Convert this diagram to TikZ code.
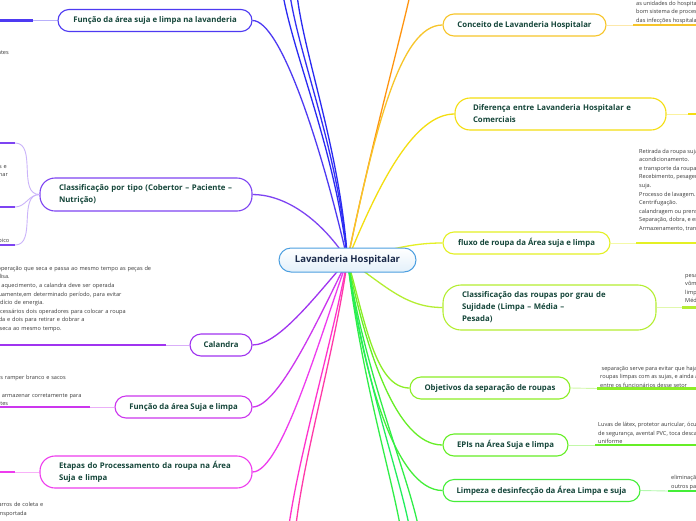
\documentclass[tikz,border=0pt]{standalone}
\usepackage{fontspec}
\setmainfont{Open Sans}
\usetikzlibrary{positioning}

\pgfdeclarelayer{background}
\pgfsetlayers{background,main}

\definecolor{topictext}{HTML}{15463A}
\definecolor{roottext}{HTML}{1C2B4B}
\definecolor{rootline}{HTML}{4C9FE0}
\definecolor{rootfill}{HTML}{E3F0FA}
\definecolor{leaftext}{HTML}{3A3A3A}
\definecolor{mmBlueA}{HTML}{2A2AF2}
\definecolor{mmBlueB}{HTML}{3430F4}
\definecolor{mmIndigo}{HTML}{4E3AF2}
\definecolor{mmViolet}{HTML}{7E44F2}
\definecolor{mmPurple}{HTML}{A034F0}
\definecolor{mmOrchid}{HTML}{CC36EE}
\definecolor{mmMagenta}{HTML}{EE3CEE}
\definecolor{mmPinkA}{HTML}{FF33CC}
\definecolor{mmPinkB}{HTML}{FF3AA8}
\definecolor{mmOrange}{HTML}{FF9410}
\definecolor{mmGold}{HTML}{F7C52A}
\definecolor{mmYellowA}{HTML}{F4DE10}
\definecolor{mmYellowB}{HTML}{E4F024}
\definecolor{mmLime}{HTML}{B4EE32}
\definecolor{mmGreenA}{HTML}{8CEE26}
\definecolor{mmGreenB}{HTML}{66EE26}
\definecolor{mmGreenC}{HTML}{44EE38}
\definecolor{mmGreenD}{HTML}{30EE48}
\definecolor{mmGreenE}{HTML}{22EE5E}

\begin{document}
\begin{tikzpicture}[x=1pt,y=-1pt,
  topic/.style={draw=#1, line width=1.1pt, fill=white, rounded corners=11pt,
    text=topictext, font=\fontsize{7.8}{12}\selectfont\bfseries,
    minimum height=22pt, inner ysep=0pt, inner xsep=12pt},
  branch/.style={draw=#1, line width=1.3pt},
  twig/.style={draw=#1!40, line width=0.9pt},
  under/.style={draw=#1, line width=2.4pt},
  leaf/.style={font=\fontsize{5.6}{8.6}\selectfont, text=leaftext, align=left,
    inner xsep=3pt, inner ysep=1pt}
]
\useasboundingbox (0,0) rectangle (696,520);
\clip (0,0) rectangle (696,520);

% central topic
\node[draw=rootline, line width=1pt, rounded corners=12pt, top color=white, bottom color=rootfill,
  text=roottext, font=\fontsize{9.5}{11}\selectfont\bfseries, minimum width=137pt, minimum height=24pt]
  (root) at (347.5,260) {Lavanderia Hospitalar};

% right side
\node[topic=mmGold, minimum width=163pt] (conceito) at (524.5,25) {Conceito de Lavanderia Hospitalar};
\node[topic=mmYellowA, minimum height=32pt, text width=175pt, align=left, inner xsep=18pt, rounded corners=15pt]
  (diferenca) at (560.5,114) {Diferença entre Lavanderia Hospitalar e\\Comerciais};
\node[topic=mmYellowB, minimum width=167pt] (fluxo) at (526.5,243) {fluxo de roupa da Área suja e limpa};
\node[topic=mmLime, minimum height=45pt, text width=175pt, align=left, inner xsep=19pt, rounded corners=18pt]
  (classRoupa) at (549.5,307.5) {Classificação das roupas por grau de\\Sujidade (Limpa – Média –\\Pesada)};
\node[topic=mmGreenA, minimum width=160pt] (objetivos) at (490,388) {Objetivos da separação de roupas};
\node[topic=mmGreenB, minimum width=125pt] (epis) at (505.5,445) {EPIs na Área Suja e limpa};
\node[topic=mmGreenC, minimum width=197pt] (limpeza) at (541.5,490.5) {Limpeza e desinfecção da Área Limpa e suja};

% left side
\node[topic=mmIndigo, minimum width=194pt] (funcLav) at (155,20.5) {Função da área suja e limpa na lavanderia};
\node[topic=mmViolet, minimum height=33pt, text width=174pt, align=left, inner xsep=19pt, rounded corners=15pt]
  (classTipo) at (146,194.5) {Classificação por tipo (Cobertor – Paciente –\\Nutrição)};
\node[topic=mmPurple, minimum width=62pt] (calandra) at (221,345) {Calandra};
\node[topic=mmOrchid, minimum width=137pt] (funcSuja) at (183.5,407) {Função da área Suja e limpa};
\node[topic=mmMagenta, minimum height=32pt, text width=174pt, align=left, inner xsep=19pt, rounded corners=15pt]
  (etapas) at (146,472) {Etapas do Processamento da roupa na Área\\Suja e limpa};

% ends of branches that leave the page
\coordinate (upA) at (283,-5);
\coordinate (upB) at (290,-5);
\coordinate (upC) at (297,-5);
\coordinate (upOrange) at (410,-5);
\coordinate (downPinkA) at (289,525);
\coordinate (downPinkB) at (296,525);
\coordinate (downGreenA) at (400,525);
\coordinate (downGreenB) at (409,525);
\coordinate (downGreenC) at (418,525);

\begin{pgfonlayer}{background}
\fill[white] (0,0) rectangle (696,520);
\draw[branch=mmBlueA] (root.center) .. controls (335,150) and (295,60) .. (upA);
\draw[branch=mmBlueB] (root.center) .. controls (338,150) and (300,60) .. (upB);
\draw[branch=mmBlueA] (root.center) .. controls (340,150) and (305,60) .. (upC);
\draw[branch=mmIndigo] (root.center) .. controls (320,140) and (280,20.5) .. (funcLav.east);
\draw[branch=mmViolet] (root.center) .. controls (318,215) and (282,194.5) .. (classTipo.east);
\draw[branch=mmPurple] (root.center) .. controls (320,290) and (280,345) .. (calandra.east);
\draw[branch=mmOrchid] (root.center) .. controls (318,320) and (278,407) .. (funcSuja.east);
\draw[branch=mmMagenta] (root.center) .. controls (322,330) and (282,472) .. (etapas.east);
\draw[branch=mmPinkA] (root.center) .. controls (330,350) and (300,450) .. (downPinkA);
\draw[branch=mmPinkB] (root.center) .. controls (335,350) and (305,450) .. (downPinkB);

\draw[branch=mmOrange] (root.center) .. controls (370,150) and (400,40) .. (upOrange);
\draw[branch=mmGold] (root.center) .. controls (375,130) and (400,25) .. (conceito.west);
\draw[branch=mmYellowA] (root.center) .. controls (380,180) and (415,114) .. (diferenca.west);
\draw[branch=mmYellowB] (root.center) .. controls (390,250) and (410,243) .. (fluxo.west);
\draw[branch=mmLime] (root.center) .. controls (385,285) and (405,307.5) .. (classRoupa.west);
\draw[branch=mmGreenA] (root.center) .. controls (365,320) and (375,388) .. (objetivos.west);
\draw[branch=mmGreenB] (root.center) .. controls (365,345) and (395,445) .. (epis.west);
\draw[branch=mmGreenC] (root.center) .. controls (362,370) and (395,490.5) .. (limpeza.west);
\draw[branch=mmGreenD] (root.center) .. controls (360,370) and (390,470) .. (downGreenA);
\draw[branch=mmGreenE] (root.center) .. controls (362,370) and (398,470) .. (downGreenB);
\draw[branch=mmGreenD] (root.center) .. controls (364,370) and (406,470) .. (downGreenC);
\end{pgfonlayer}

% right leaves
\coordinate (conceitoEnd) at (633,25);
\node[leaf, anchor=south west] (conceitoTxt) at (conceitoEnd) {Tem a função de fornecer roupas limpas a todas\\as unidades do hospital, garantindo com um\\bom sistema de processamento a prevenção\\das infecções hospitalares.};
\draw[twig=mmGold] (conceito.east) -- (conceitoEnd);
\draw[under=mmGold] (conceitoEnd) -- ++(70,0);

\coordinate (diferencaEnd) at (688,114);
\draw[twig=mmYellowA] (diferenca.east) -- (diferencaEnd);
\draw[under=mmYellowA] (diferencaEnd) -- ++(20,0);

\coordinate (fluxoEnd) at (636,243);
\node[leaf, anchor=south west, yshift=10pt] (fluxoTxt) at (fluxoEnd) {Retirada da roupa suja das unidades e seu\\acondicionamento.\\e transporte da roupa suja até a lavanderia.\\Recebimento, pesagem e classificação da roupa\\suja.\\Processo de lavagem.\\Centrifugação.\\calandragem ou prensagem.\\Separação, dobra, e embalagem da roupa limpa.\\Armazenamento, transporte e distribuição.};
\draw[twig=mmYellowB] (fluxo.east) -- (fluxoEnd);
\draw[under=mmYellowB] (fluxoEnd) -- ++(70,0);

\coordinate (classRoupaEnd) at (682,307.5);
\node[leaf, anchor=south west, yshift=2pt] (classRoupaTxt) at (classRoupaEnd) {pesada: sangue, fezes, urina,\\vômito e secreções.\\limpa: sem contato com fluidos.\\Média: pouca sujidade.};
\draw[twig=mmLime] (classRoupa.east) -- (classRoupaEnd);
\draw[under=mmLime] (classRoupaEnd) -- ++(30,0);

\coordinate (objetivosEnd) at (597,388.5);
\node[leaf, anchor=south west] (objetivosTxt) at (objetivosEnd) {\ separação serve para evitar que haja contato das\\roupas limpas com as sujas, e ainda a contaminação\\entre os funcionários desse setor};
\draw[twig=mmGreenA] (objetivos.east) -- (objetivosEnd);
\draw[under=mmGreenA] (objetivosEnd) -- ++(110,0);

\coordinate (episEnd) at (595,445);
\node[leaf, anchor=south west] (episTxt) at (episEnd) {Luvas de látex, protetor auricular, óculos\\de segurança, avental PVC, toca descartável e\\uniforme};
\draw[twig=mmGreenB] (epis.east) -- (episEnd);
\draw[under=mmGreenB] (episEnd) -- ++(110,0);

\coordinate (limpezaEnd) at (668,491);
\node[leaf, anchor=south west] (limpezaTxt) at (limpezaEnd) {eliminação de sujeiras, vírus, bactérias e\\outros patógenos.};
\draw[twig=mmGreenC] (limpeza.east) -- (limpezaEnd);
\draw[under=mmGreenC] (limpezaEnd) -- ++(40,0);

% left leaves
\coordinate (funcLavEnd) at (33,20.5);
\draw[twig=mmIndigo] (funcLav.west) -- (funcLavEnd);
\draw[under=mmIndigo] (funcLavEnd) -- ++(-40,0);
\node[leaf, anchor=east] (funcLavTxt) at (12,52) {ambientes};

\coordinate (tipoA) at (15,143);
\coordinate (tipoB) at (15,207);
\coordinate (tipoC) at (15,245);
\draw[twig=mmViolet] (classTipo.west) to[out=180,in=0] (tipoA);
\draw[twig=mmViolet] (classTipo.west) to[out=180,in=0] (tipoB);
\draw[twig=mmViolet] (classTipo.west) to[out=180,in=0] (tipoC);
\draw[under=mmViolet] (tipoA) -- ++(-30,0);
\draw[under=mmViolet] (tipoB) -- ++(-30,0);
\draw[under=mmViolet] (tipoC) -- ++(-30,0);
\node[leaf, anchor=south west, text width=150pt, yshift=2pt] (tipoBTxt) at (-130,207) {Paciente: roupas usadas pelos pacientes\\internados, como camisolas, fronhas, cobertores e\\roupas usadas para cobrir, aquecer e acondicionar\\o paciente em seu leito e\\nas macas durante o\\transporte.};
\node[leaf, anchor=south west, text width=150pt] (tipoCTxt) at (-120,245) {Nutrição: uniformes utilizados na cozinha\\e no refeitório,\\como aventais, toucas e panos\\com um processo de lavagem diferente e típico};

\coordinate (calandraEnd) at (166,345);
\node[leaf, anchor=south west, text width=190pt, yshift=12pt] (calandraTxt) at (-21,345) {Faz a operação que seca e passa ao mesmo tempo as peças de\\roupa lisa.\\Com o aquecimento, a calandra deve ser operada\\continuamente,em determinado período, para evitar\\desperdício de energia.\\São necessários dois operadores para colocar a roupa\\molhada e dois para retirar e dobrar a\\roupa seca ao mesmo tempo.};
\draw[twig=mmPurple] (calandra.west) -- (calandraEnd);
\draw[under=mmPurple] (calandraEnd) -- ++(-200,0);

\coordinate (funcSujaEnd) at (90,407);
\node[leaf, anchor=south west, text width=110pt] (funcSujaTxt) at (-15,407) {Sacos ramper branco e sacos\\[8.6pt]Para armazenar corretamente para\\clientes};
\draw[twig=mmOrchid] (funcSuja.west) -- (funcSujaEnd);
\draw[under=mmOrchid] (funcSujaEnd) -- ++(-120,0);

\coordinate (etapasEnd) at (15,472);
\draw[twig=mmMagenta] (etapas.west) -- (etapasEnd);
\draw[under=mmMagenta] (etapasEnd) -- ++(-30,0);
\node[leaf, anchor=north west, text width=180pt] (etapasTxt) at (-117,501) {A roupa suja deve ser acondicionada em carros de coleta e\\fechados e identificados para então ser transportada};

\end{tikzpicture}
\end{document}
